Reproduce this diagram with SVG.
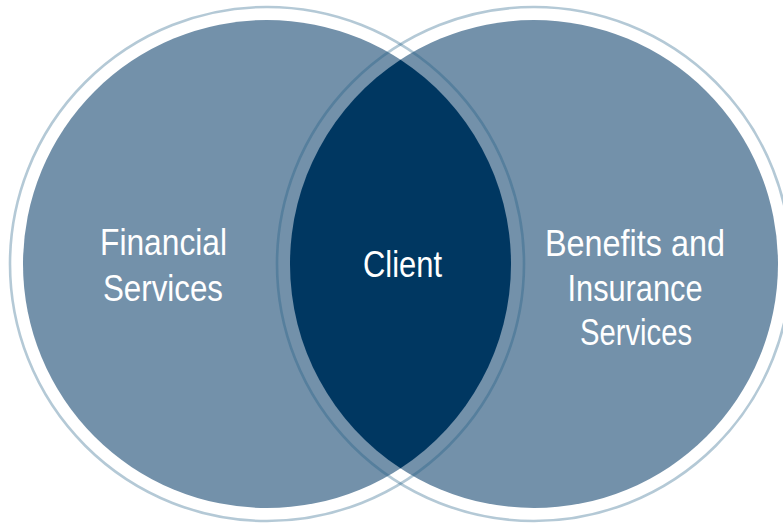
<svg xmlns="http://www.w3.org/2000/svg" width="783" height="525" viewBox="0 0 783 525">
  <style>
    .fill { fill: #7391AA; }
    .ring { fill: none; stroke: #1A5A82; stroke-opacity: 0.33; stroke-width: 2.6; }
    .lens { fill: #003761; }
    .label { font-family: "Liberation Sans Narrow", "Liberation Sans", Arial, sans-serif; font-size: 37px; fill: #FFFFFF; text-anchor: middle; }
  </style>
  <rect width="783" height="525" fill="#FFFFFF"/>
  <g id="financial-services">
    <circle class="fill" cx="267" cy="264" r="244"/>
    <text class="label" x="163.5" y="254.5" textLength="127" lengthAdjust="spacingAndGlyphs">Financial</text>
    <text class="label" x="163" y="300.5" textLength="120" lengthAdjust="spacingAndGlyphs">Services</text>
  </g>
  <g id="benefits-insurance-services">
    <circle class="fill" cx="534" cy="264" r="244"/>
    <text class="label" x="635" y="256" textLength="180" lengthAdjust="spacingAndGlyphs">Benefits and</text>
    <text class="label" x="635" y="300.5" textLength="135" lengthAdjust="spacingAndGlyphs">Insurance</text>
    <text class="label" x="636" y="345" textLength="112" lengthAdjust="spacingAndGlyphs">Services</text>
  </g>
  <g id="rings">
    <circle class="ring" cx="267" cy="264" r="257"/>
    <circle class="ring" cx="534" cy="264" r="257"/>
  </g>
  <g id="client">
    <path class="lens" d="M400.5,59.76 A244,244 0 0 1 400.5,468.24 A244,244 0 0 1 400.5,59.76 Z"/>
    <text class="label" x="402.5" y="277" textLength="79" lengthAdjust="spacingAndGlyphs">Client</text>
  </g>
</svg>
